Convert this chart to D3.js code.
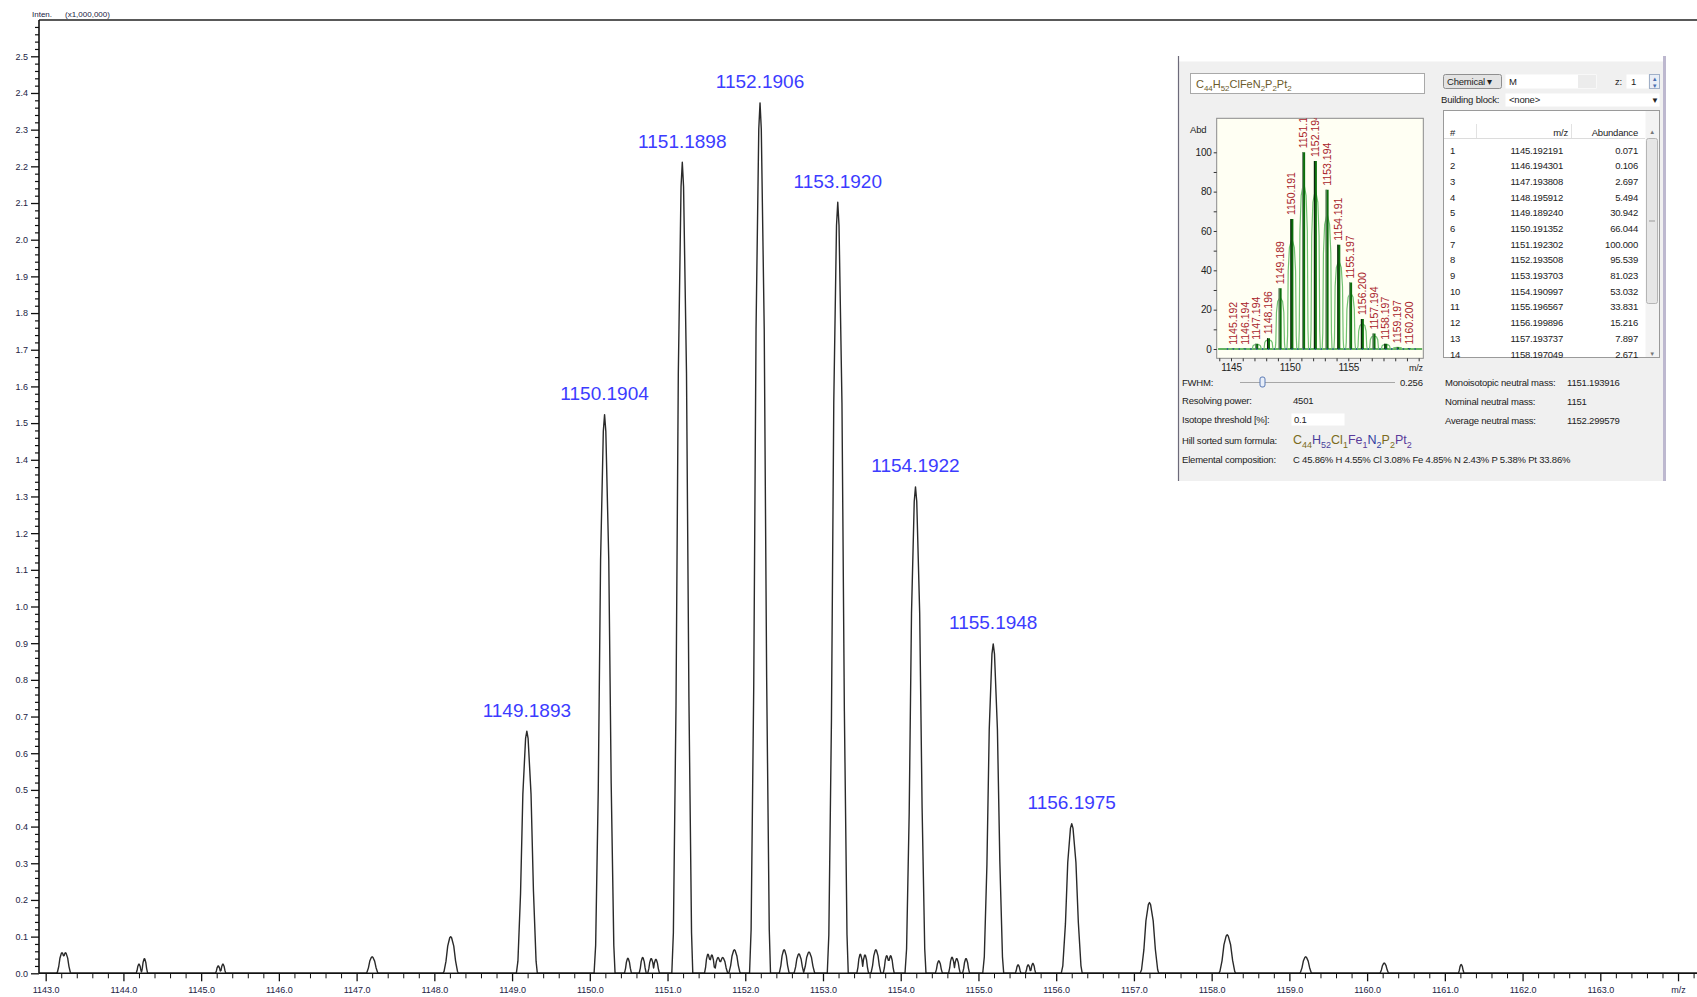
<!DOCTYPE html>
<html>
<head>
<meta charset="utf-8">
<script src="https://cdn.jsdelivr.net/npm/d3@7"></script>
<style>
body { margin: 0; background: #fff; }
svg { display: block; font-family: "Liberation Sans", Arial, sans-serif; }
</style>
</head>
<body>
<div id="chart"></div>
<script>
// ---- main spectrum: profile peaks [m/z, intensity (x1,000,000), half width in m/z]
const isotopePeaks = [
  [1143.21, 0.056, 0.07], [1143.255, 0.056, 0.07],
  [1144.20, 0.025, 0.04], [1144.27, 0.040, 0.045],
  [1145.22, 0.020, 0.04], [1145.28, 0.025, 0.04],
  [1147.20, 0.045, 0.08],
  [1148.21, 0.100, 0.10],
  [1149.19, 0.660, 0.135],
  [1150.19, 1.523, 0.135],
  [1151.19, 2.211, 0.135],
  [1152.19, 2.373, 0.135],
  [1153.19, 2.102, 0.135],
  [1154.19, 1.326, 0.135],
  [1155.19, 0.898, 0.135],
  [1156.20, 0.408, 0.135],
  [1157.20, 0.193, 0.12],
  [1158.20, 0.105, 0.11],
  [1159.21, 0.045, 0.08],
  [1160.22, 0.028, 0.06],
  [1161.21, 0.024, 0.04]
];
const noisePeaks = [
  [1150.49, 0.041, 0.05], [1150.68, 0.043, 0.05],
  [1150.79, 0.040, 0.05], [1150.85, 0.038, 0.05],
  [1151.52, 0.052, 0.05], [1151.57, 0.050, 0.05],
  [1151.65, 0.043, 0.06], [1151.71, 0.043, 0.07],
  [1151.86, 0.064, 0.08],
  [1152.50, 0.064, 0.07], [1152.69, 0.053, 0.07], [1152.82, 0.058, 0.08],
  [1153.48, 0.052, 0.05], [1153.54, 0.050, 0.05],
  [1153.68, 0.064, 0.07], [1153.82, 0.048, 0.05], [1153.87, 0.048, 0.05],
  [1154.49, 0.034, 0.05], [1154.66, 0.044, 0.05], [1154.72, 0.040, 0.05],
  [1154.84, 0.040, 0.05],
  [1155.51, 0.023, 0.04], [1155.64, 0.023, 0.04], [1155.70, 0.027, 0.04]
];
// relative peak outline read from the 1149 peak: [offset / half width, fraction of height]
const peakShape = [[-1, 0], [-0.85, 0.05], [-0.6, 0.33], [-0.38, 0.74], [-0.12, 0.97], [0, 1],
                   [0.12, 0.97], [0.4, 0.74], [0.63, 0.34], [0.88, 0.05], [1, 0]];
const labelMz = [1149.19, 1150.19, 1151.19, 1152.19, 1153.19, 1154.19, 1155.19, 1156.20];
const labelText = ["1149.1893", "1150.1904", "1151.1898", "1152.1906", "1153.1920", "1154.1922", "1155.1948", "1156.1975"];

// ---- isotope calculator panel
const isoNo = [1, 2, 3, 4, 5, 6, 7, 8, 9, 10, 11, 12, 13, 14];
const isoMz = ["1145.192191", "1146.194301", "1147.193808", "1148.195912", "1149.189240", "1150.191352",
               "1151.192302", "1152.193508", "1153.193703", "1154.190997", "1155.196567", "1156.199896",
               "1157.193737", "1158.197049"];
const isoAbund = ["0.071", "0.106", "2.697", "5.494", "30.942", "66.044", "100.000", "95.539", "81.023",
                  "53.032", "33.831", "15.216", "7.897", "2.671"];
// sticks in the small plot (two more isotopes than the visible table rows)
const stickMz = [1145.192, 1146.194, 1147.194, 1148.196, 1149.189, 1150.191, 1151.192, 1152.194,
                 1153.194, 1154.191, 1155.197, 1156.200, 1157.194, 1158.197, 1159.197, 1160.200];
const stickAbund = [0.071, 0.106, 2.697, 5.494, 30.942, 66.044, 100, 95.539, 81.023, 53.032,
                    33.831, 15.216, 7.897, 2.671, 0.95, 0.27];
const stickLabel = ["1145.192", "1146.194", "1147.194", "1148.196", "1149.189", "1150.191", "1151.192",
                    "1152.194", "1153.194", "1154.191", "1155.197", "1156.200", "1157.194", "1158.197",
                    "1159.197", "1160.200"];
const insetShape = [[-1, 0], [-0.88, 0.1], [-0.75, 0.6], [-0.5, 0.78], [0, 0.85],
                    [0.5, 0.78], [0.75, 0.6], [0.88, 0.1], [1, 0]];

const W = 1697, H = 997;
const svg = d3.select("#chart").append("svg").attr("width", W).attr("height", H);

// ================= main plot =================
const x = d3.scaleLinear().domain([1142.914, 1164.244]).range([39, 1697]);
const y = d3.scaleLinear().domain([0, 2.5]).range([973.3, 56.3]);
const plotTop = 20;

function peakAt(p, mz) {
  const t = (mz - p[0]) / p[2];
  if (t <= -1 || t >= 1) return 0;
  for (let i = 1; i < peakShape.length; i++) {
    const a = peakShape[i - 1], b = peakShape[i];
    if (t <= b[0]) return p[1] * (a[1] + (b[1] - a[1]) * (t - a[0]) / (b[0] - a[0]));
  }
  return 0;
}
const allPeaks = isotopePeaks.concat(noisePeaks);
let xs = [x.domain()[0], x.domain()[1]];
allPeaks.forEach(p => peakShape.forEach(s => xs.push(p[0] + s[0] * p[2])));
xs.sort((a, b) => a - b);
const profile = xs.map(m => [m, d3.max(allPeaks, p => peakAt(p, m))]);

const line = d3.line().x(d => x(d[0])).y(d => y(d[1]));

// axes
const axisColor = "#222244";
const gx = svg.append("g").attr("transform", `translate(0,${y(0)})`);
const minorX = d3.range(0, 107).filter(k => k % 5 !== 0).map(k => 1143 + k * 0.2);
gx.append("g").call(d3.axisBottom(x).tickValues(minorX).tickSize(5).tickSizeOuter(0).tickFormat(""))
  .call(g => g.select(".domain").remove());
gx.append("g").call(d3.axisBottom(x).tickValues(d3.range(1143, 1165)).tickSize(8).tickSizeOuter(0)
    .tickFormat(d => d === 1164 ? "m/z" : d.toFixed(1)))
  .call(g => g.select(".domain").remove())
  .call(g => g.selectAll("text").attr("font-size", 9).attr("font-family", "Liberation Sans, Arial")
    .attr("fill", axisColor).attr("dy", 0).attr("y", 20))
  .call(g => g.selectAll("line").attr("stroke", "#111").attr("stroke-width", 1.3));

const gy = svg.append("g").attr("transform", `translate(${x.range()[0]},0)`);
const minorY = d3.range(0, 130).filter(k => k % 5 !== 0).map(k => k * 0.02);
gy.append("g").call(d3.axisLeft(y).tickValues(minorY).tickSize(4).tickSizeOuter(0).tickFormat(""))
  .call(g => g.select(".domain").remove())
  .call(g => g.selectAll("line").attr("stroke", "#111").attr("stroke-width", 1.2));
gy.append("g").call(d3.axisLeft(y).tickValues(d3.range(0, 26).map(k => k / 10)).tickSize(8).tickSizeOuter(0)
    .tickFormat(d3.format(".1f")))
  .call(g => g.select(".domain").remove())
  .call(g => g.selectAll("text").attr("font-size", 9).attr("font-family", "Liberation Sans, Arial")
    .attr("fill", axisColor).attr("x", -11))
  .call(g => g.selectAll("line").attr("stroke", "#111").attr("stroke-width", 1.3));
gx.selectAll(".tick line").attr("stroke", "#111");

// frame lines
svg.append("line").attr("x1", 39).attr("x2", W).attr("y1", plotTop).attr("y2", plotTop)
  .attr("stroke", "#222").attr("stroke-width", 1.5);
svg.append("line").attr("x1", 39).attr("x2", 39).attr("y1", plotTop).attr("y2", y(0))
  .attr("stroke", "#111").attr("stroke-width", 1.6);

svg.append("text").attr("x", 32).attr("y", 16.5).attr("font-size", 8).attr("fill", axisColor)
  .text("Inten.").append("tspan").attr("x", 65).text("(x1,000,000)");

// spectrum
svg.append("path").datum(profile).attr("d", line)
  .attr("fill", "none").attr("stroke", "#2a2a2a").attr("stroke-width", 1.4).attr("stroke-linejoin", "round");
svg.append("line").attr("x1", 39).attr("x2", W).attr("y1", y(0)).attr("y2", y(0))
  .attr("stroke", "#111").attr("stroke-width", 1.6);

// peak labels
svg.append("g").selectAll("text").data(labelMz).join("text")
  .attr("x", d => x(d))
  .attr("y", d => y(d3.max(isotopePeaks, p => Math.abs(p[0] - d) < 0.02 ? p[1] : 0)) - 14.5)
  .attr("text-anchor", "middle").attr("font-size", 19).attr("fill", "#3c3cff")
  .text((d, i) => labelText[i]);

// ================= isotope calculator panel =================
const panel = svg.append("g").attr("font-size", 9.5).attr("letter-spacing", -0.2).attr("fill", "#222");
panel.append("rect").attr("x", 1178.5).attr("y", 61.5).attr("width", 485).attr("height", 419.5)
  .attr("fill", "#f0f0f0").attr("stroke", "none");
panel.append("line").attr("x1", 1178.5).attr("x2", 1178.5).attr("y1", 56).attr("y2", 481)
  .attr("stroke", "#6d6a7a").attr("stroke-width", 1.2);
panel.append("line").attr("x1", 1664.5).attr("x2", 1664.5).attr("y1", 56).attr("y2", 481)
  .attr("stroke", "#bdb8cf").attr("stroke-width", 3);

function formula(g, x0, y0, parts, size, colors) {
  const t = g.append("text").attr("x", x0).attr("y", y0).attr("font-size", size).attr("letter-spacing", 0);
  parts.forEach((p, i) => {
    const isSub = /^[0-9]+$/.test(p);
    t.append("tspan").attr("font-size", isSub ? size * 0.72 : size)
      .attr("dy", isSub ? size * 0.28 : (i > 0 ? -size * 0.28 : 0))
      .attr("fill", colors ? colors[Math.floor(i / 2) % colors.length] : "#6b5a2a")
      .text(p);
  });
  return t;
}

// formula box
panel.append("rect").attr("x", 1190.5).attr("y", 73.5).attr("width", 234).attr("height", 20)
  .attr("fill", "#fff").attr("stroke", "#a9a9a9");
formula(panel, 1196, 87.5, ["C", "44", "H", "52", "ClFeN", "2", "P", "2", "Pt", "2"], 11);

// controls on the right
panel.append("rect").attr("x", 1443.5).attr("y", 74.5).attr("width", 58).attr("height", 14).attr("rx", 2)
  .attr("fill", "#e3e3e3").attr("stroke", "#8f8f8f");
panel.append("text").attr("x", 1447).attr("y", 85).text("Chemical \u25BE");
panel.append("rect").attr("x", 1505.5).attr("y", 74.5).attr("width", 91).attr("height", 14)
  .attr("fill", "#fff").attr("stroke", "none");
panel.append("rect").attr("x", 1578).attr("y", 75).attr("width", 18).attr("height", 13).attr("fill", "#ececec");
panel.append("text").attr("x", 1509).attr("y", 85).text("M");
panel.append("text").attr("x", 1615).attr("y", 85).text("z:");
panel.append("rect").attr("x", 1626.5).attr("y", 74.5).attr("width", 22).attr("height", 14).attr("fill", "#fff");
panel.append("text").attr("x", 1631).attr("y", 85).text("1");
panel.append("rect").attr("x", 1649.5).attr("y", 74.5).attr("width", 10).attr("height", 14)
  .attr("fill", "#e9eef6").attr("stroke", "#a0b0c8");
panel.append("text").attr("x", 1654.5).attr("y", 81).attr("font-size", 6).attr("text-anchor", "middle")
  .attr("fill", "#4a6fb0").text("\u25B2");
panel.append("text").attr("x", 1654.5).attr("y", 88).attr("font-size", 6).attr("text-anchor", "middle")
  .attr("fill", "#4a6fb0").text("\u25BC");

panel.append("text").attr("x", 1441).attr("y", 102.5).text("Building block:");
panel.append("rect").attr("x", 1505.5).attr("y", 93.5).attr("width", 154).attr("height", 13)
  .attr("fill", "#fff").attr("stroke", "none");
panel.append("text").attr("x", 1509).attr("y", 103).text("<none>");
panel.append("text").attr("x", 1651).attr("y", 103).attr("font-size", 8).text("\u25BC");

// table
const tbl = panel.append("g");
tbl.append("clipPath").attr("id", "tclip").append("rect")
  .attr("x", 1443).attr("y", 110).attr("width", 217).attr("height", 248);
tbl.append("rect").attr("x", 1443.5).attr("y", 110.5).attr("width", 216).attr("height", 247)
  .attr("fill", "#fff").attr("stroke", "#9a9a9a");
tbl.append("line").attr("x1", 1444).attr("x2", 1645).attr("y1", 138.5).attr("y2", 138.5).attr("stroke", "#dcdcdc");
[1476.5, 1571.5].forEach(v => tbl.append("line").attr("x1", v).attr("x2", v).attr("y1", 124).attr("y2", 138)
  .attr("stroke", "#e2e2e2"));
tbl.append("text").attr("x", 1450).attr("y", 135.5).text("#");
tbl.append("text").attr("x", 1568).attr("y", 135.5).attr("text-anchor", "end").text("m/z");
tbl.append("text").attr("x", 1638).attr("y", 135.5).attr("text-anchor", "end").text("Abundance");
const rowY = d3.scaleLinear().domain([0, 13]).range([153.5, 357.5]);
const rows = tbl.append("g").attr("clip-path", "url(#tclip)").selectAll("g").data(isoNo).join("g")
  .attr("transform", (d, i) => `translate(0,${rowY(i)})`);
rows.append("text").attr("x", 1450).text(d => d);
rows.append("text").attr("x", 1563).attr("text-anchor", "end").text((d, i) => isoMz[i]);
rows.append("text").attr("x", 1638).attr("text-anchor", "end").text((d, i) => isoAbund[i]);
// scrollbar
tbl.append("rect").attr("x", 1645.5).attr("y", 111).attr("width", 13.5).attr("height", 246).attr("fill", "#f3f3f3");
tbl.append("rect").attr("x", 1646.5).attr("y", 138.5).attr("width", 11).attr("height", 165).attr("rx", 2)
  .attr("fill", "#e6e6e6").attr("stroke", "#b5b5b5");
tbl.append("text").attr("x", 1652).attr("y", 134).attr("font-size", 6).attr("text-anchor", "middle")
  .attr("fill", "#777").text("\u25B2");
tbl.append("text").attr("x", 1652).attr("y", 356).attr("font-size", 6).attr("text-anchor", "middle")
  .attr("fill", "#777").text("\u25BC");
tbl.append("line").attr("x1", 1649).attr("x2", 1655).attr("y1", 221).attr("y2", 221).attr("stroke", "#999");

// small isotope plot
const ix = d3.scaleLinear().domain([1145, 1155]).range([1231, 1348.3]);
const iy = d3.scaleLinear().domain([0, 100]).range([349, 152.3]);
const ib = { x0: 1216.7, x1: 1423.3, y0: 118.3, y1: 358.3 };
const ip = panel.append("g");
ip.append("clipPath").attr("id", "iclip").append("rect")
  .attr("x", ib.x0).attr("y", ib.y0).attr("width", ib.x1 - ib.x0).attr("height", ib.y1 - ib.y0);
ip.append("rect").attr("x", ib.x0).attr("y", ib.y0).attr("width", ib.x1 - ib.x0).attr("height", ib.y1 - ib.y0)
  .attr("fill", "#fffff3").attr("stroke", "#8a8a8a");
const ipc = ip.append("g").attr("clip-path", "url(#iclip)");

const iline = d3.line().x(d => ix(d[0])).y(d => iy(d[1]));
ipc.append("line").attr("x1", ix(1143.9)).attr("x2", ix(1161.3)).attr("y1", iy(0)).attr("y2", iy(0))
  .attr("stroke", "#2f9a2f").attr("stroke-width", 1.5);
ipc.append("g").selectAll("path").data(stickMz).join("path")
  .attr("d", (d, i) => iline(insetShape.map(s => [d + s[0] * 0.42, s[1] * stickAbund[i]])))
  .attr("fill", "none").attr("stroke", "#72c272").attr("stroke-width", 1.2);
ipc.append("g").selectAll("line").data(stickMz).join("line")
  .attr("x1", d => ix(d)).attr("x2", d => ix(d)).attr("y1", iy(0)).attr("y2", (d, i) => iy(stickAbund[i]))
  .attr("stroke", "#0b6e0b").attr("stroke-width", 3);
ipc.append("g").selectAll("line").data(stickMz).join("line")
  .attr("x1", d => ix(d) - 1).attr("x2", d => ix(d) - 1).attr("y1", iy(0)).attr("y2", (d, i) => iy(stickAbund[i]))
  .attr("stroke", (d, i) => i % 2 ? "#111" : "#888").attr("stroke-width", 0.9);
ipc.append("g").selectAll("circle").data(d3.range(1144.7, 1161, 0.5)).join("circle")
  .attr("cx", d => ix(d)).attr("cy", iy(0)).attr("r", 0.8).attr("fill", "#1f3fa8");
ipc.append("g").selectAll("text").data(stickMz).join("text")
  .attr("transform", (d, i) => `translate(${ix(d) + 3.5},${iy(stickAbund[i]) - 4}) rotate(-90)`)
  .attr("font-size", 10.5).attr("letter-spacing", 0).attr("fill", "#a8232a").text((d, i) => stickLabel[i]);

// small plot axes
const igy = ip.append("g").attr("transform", `translate(${ib.x0},0)`);
igy.call(d3.axisLeft(iy).tickValues(d3.range(0, 101, 10)).tickSize(3).tickSizeOuter(0)
    .tickFormat(d => d % 20 === 0 ? d : ""))
  .call(g => g.select(".domain").remove())
  .call(g => g.selectAll("text").attr("font-size", 10).attr("font-family", "Liberation Sans, Arial").attr("fill", "#222").attr("x", -5))
  .call(g => g.selectAll("line").attr("stroke", "#333"));
ip.append("text").attr("x", 1190).attr("y", 133).text("Abd");
const igx = ip.append("g").attr("transform", `translate(0,${ib.y1})`);
igx.call(d3.axisBottom(ix).tickValues(d3.range(1144, 1162)).tickSize(3).tickSizeOuter(0)
    .tickFormat(d => (d === 1145 || d === 1150 || d === 1155) ? d : ""))
  .call(g => g.select(".domain").remove())
  .call(g => g.selectAll("text").attr("font-size", 10).attr("font-family", "Liberation Sans, Arial").attr("fill", "#222").attr("dy", 0).attr("y", 12.5))
  .call(g => g.selectAll("line").attr("stroke", "#333"));
ip.append("text").attr("x", 1409).attr("y", 370.5).attr("font-size", 9).text("m/z");

// lower info block
const info = panel.append("g");
info.append("text").attr("x", 1182).attr("y", 386).text("FWHM:");
info.append("line").attr("x1", 1240).attr("x2", 1395).attr("y1", 382.5).attr("y2", 382.5).attr("stroke", "#a7a7a7");
info.append("rect").attr("x", 1260).attr("y", 377).attr("width", 5).attr("height", 10).attr("rx", 2)
  .attr("fill", "#e8eef8").attr("stroke", "#5a7ab5");
info.append("text").attr("x", 1400).attr("y", 386).text("0.256");
info.append("text").attr("x", 1182).attr("y", 404).text("Resolving power:");
info.append("text").attr("x", 1293).attr("y", 404).text("4501");
info.append("text").attr("x", 1182).attr("y", 423).text("Isotope threshold [%]:");
info.append("rect").attr("x", 1291.5).attr("y", 413.5).attr("width", 53).attr("height", 12).attr("fill", "#fff");
info.append("text").attr("x", 1294).attr("y", 423).text("0.1");
info.append("text").attr("x", 1182).attr("y", 443.5).text("Hill sorted sum formula:");
formula(info, 1293, 444, ["C", "44", "H", "52", "Cl", "1", "Fe", "1", "N", "2", "P", "2", "Pt", "2"], 12.5,
  ["#7a6a20", "#4a3f9a", "#7a6a20", "#5a3a9a", "#3040a0", "#7a6a20", "#5a3a9a"]);
info.append("text").attr("x", 1182).attr("y", 463).text("Elemental composition:");
info.append("text").attr("x", 1293).attr("y", 463)
  .text("C 45.86% H 4.55% Cl 3.08% Fe 4.85% N 2.43% P 5.38% Pt 33.86%");
info.append("text").attr("x", 1445).attr("y", 386).text("Monoisotopic neutral mass:");
info.append("text").attr("x", 1567).attr("y", 386).text("1151.193916");
info.append("text").attr("x", 1445).attr("y", 405).text("Nominal neutral mass:");
info.append("text").attr("x", 1567).attr("y", 405).text("1151");
info.append("text").attr("x", 1445).attr("y", 423.5).text("Average neutral mass:");
info.append("text").attr("x", 1567).attr("y", 423.5).text("1152.299579");
</script>
</body>
</html>
